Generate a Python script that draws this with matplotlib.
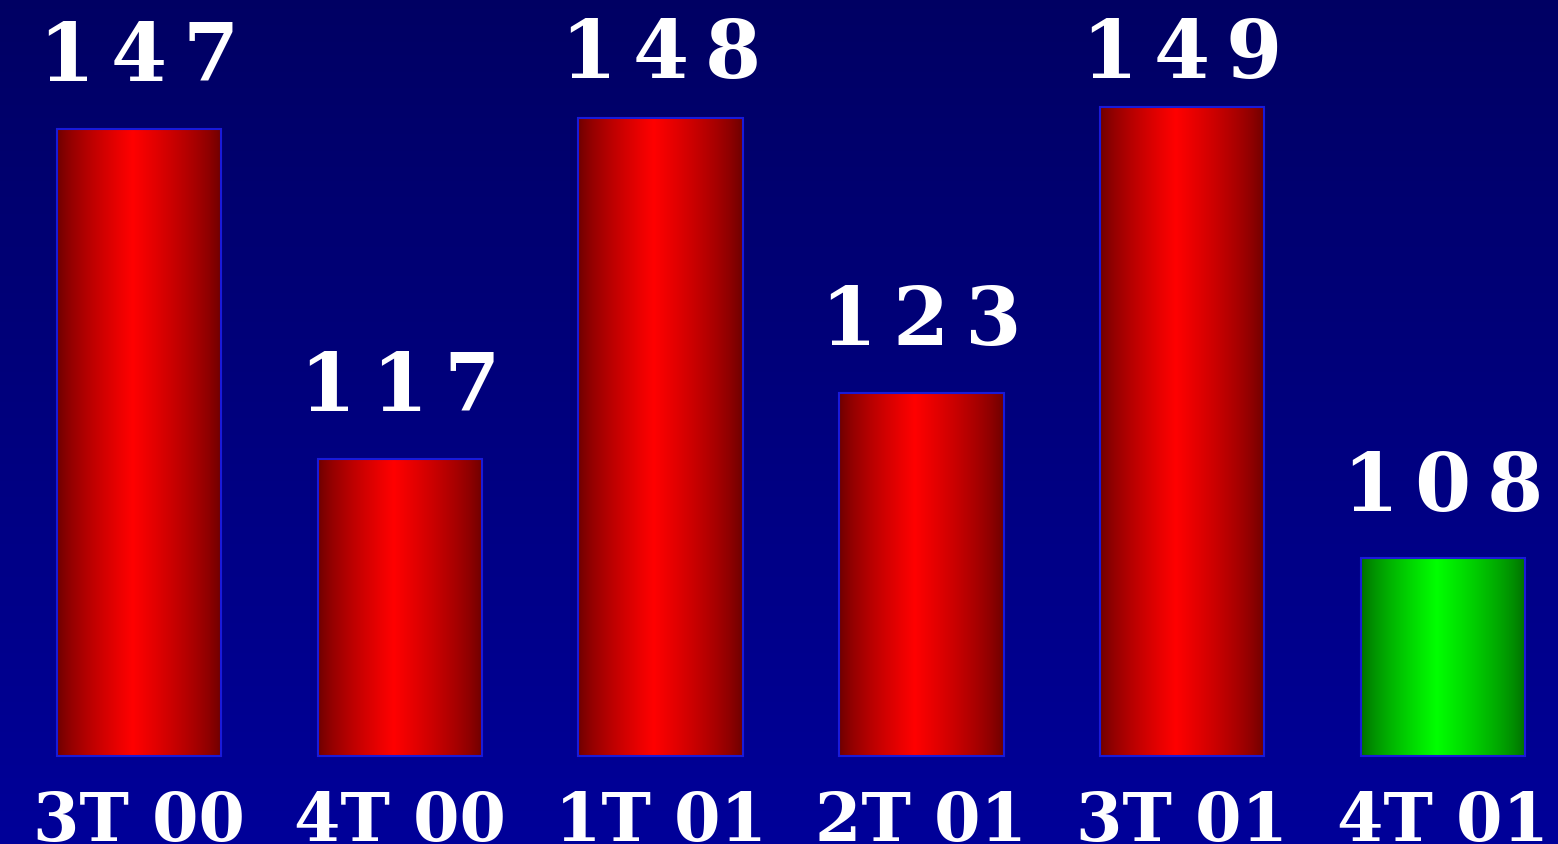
import numpy as np
import matplotlib
matplotlib.use('Agg')
import matplotlib.pyplot as plt
from matplotlib.colors import LinearSegmentedColormap

# data
quarters = ['3T 00', '4T 00', '1T 01', '2T 01', '3T 01', '4T 01']
values = [147, 117, 148, 123, 149, 108]
base = 90  # bars start here, not at zero

# dark edge -> bright centre for every bar
red_map = LinearSegmentedColormap.from_list('reds', [(0.42, 0, 0), (1, 0, 0)])
green_map = LinearSegmentedColormap.from_list('greens', [(0, 0.42, 0), (0, 1, 0)])
bar_maps = [red_map] * 5 + [green_map]

fig = plt.figure(figsize=(15.58, 8.45), dpi=100)
ax = fig.add_axes([0, 0, 1, 1])
ax.set_axis_off()
ymin, ymax = 82, 158.8

# background: navy at top, lighter blue at bottom
bg = LinearSegmentedColormap.from_list('bg', [(0, 0, 0.39), (0, 0, 0.6)])
ax.imshow(np.linspace(0, 1, 256).reshape(-1, 1), cmap=bg, aspect='auto',
          extent=(0, 1, 0, 1), transform=ax.transAxes, zorder=0)

x = np.arange(len(quarters))
heights = [v - base for v in values]
bars = ax.bar(x, heights, bottom=base, width=0.63, color='none',
              edgecolor=(0.1, 0.1, 0.85), linewidth=1.5, zorder=3)

# horizontal shading inside each bar, peak a bit left of the middle
u = np.linspace(0, 1, 200)
t = np.where(u < 0.46, u / 0.46, (1 - u) / 0.54) ** 0.75
for bar, cmap in zip(bars, bar_maps):
    x0, y0 = bar.get_x(), bar.get_y()
    x1, y1 = x0 + bar.get_width(), y0 + bar.get_height()
    im = ax.imshow(t.reshape(1, -1), cmap=cmap, vmin=0, vmax=1, aspect='auto',
                   extent=(x0, x1, y0, y1), zorder=2)
    im.set_clip_path(bar)

# value labels over the bars; tall ones are held below the top edge
gap = 4.4
top_line = ymax - 7.05
for xi, v in zip(x, values):
    label = '\u2009'.join(str(v))
    ax.text(xi, min(v + gap, top_line), label, ha='center', va='baseline',
            color='white', fontsize=58, fontweight='bold',
            family='DejaVu Serif', zorder=4)

# quarter names under the bars
for xi, q in zip(x, quarters):
    ax.annotate(q, (xi, base), xytext=(0, -24), textcoords='offset points',
                ha='center', va='top', color='white', fontsize=48,
                fontweight='bold', family='DejaVu Serif', zorder=4,
                annotation_clip=False)

ax.set_xlim(-0.533, 5.441)
ax.set_ylim(ymin, ymax)

fig.savefig('out.png', dpi=100)
